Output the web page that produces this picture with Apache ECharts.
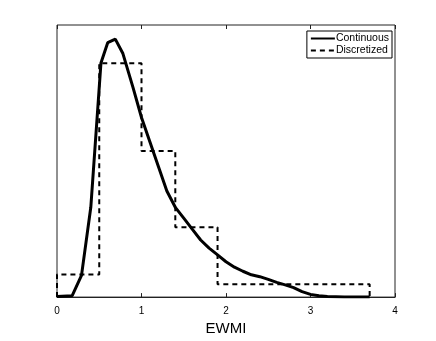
<!DOCTYPE html>
<html>
<head>
<meta charset="utf-8">
<script src="https://cdn.jsdelivr.net/npm/echarts@6/dist/echarts.min.js"></script>
<style>
  html, body { margin: 0; padding: 0; background: #fff; }
  #chart { width: 436px; height: 341px; }
</style>
</head>
<body>
<div id="chart"></div>
<script>
// continuous density (x, y)
var cont_x = [0, 0.18, 0.29, 0.4, 0.52, 0.6, 0.69, 0.78, 0.9, 1.0, 1.1, 1.2, 1.3, 1.4, 1.5, 1.6, 1.7, 1.8, 1.9, 2.0,
              2.1, 2.2, 2.3, 2.4, 2.5, 2.6, 2.7, 2.8, 2.9, 3.0, 3.1, 3.2, 3.4, 3.7];
var cont_y = [0.002, 0.005, 0.08, 0.33, 0.86, 0.935, 0.948, 0.895, 0.77, 0.66, 0.57, 0.48, 0.39, 0.33, 0.29, 0.25, 0.21, 0.18, 0.155, 0.13,
              0.11, 0.095, 0.082, 0.075, 0.065, 0.054, 0.045, 0.035, 0.02, 0.01, 0.005, 0.002, 0.0, 0.0];

// discretized bins
var bin_edges = [0, 0.5, 1.0, 1.4, 1.9, 3.7];
var bin_heights = [0.083, 0.859, 0.537, 0.257, 0.047];

var x_ticks = [0, 1, 2, 3, 4];

var cont_data = [];
for (var i = 0; i < cont_x.length; i++) {
    cont_data.push([cont_x[i], cont_y[i]]);
}

var disc_data = [[bin_edges[0], 0]];
for (var j = 0; j < bin_heights.length; j++) {
    disc_data.push([bin_edges[j], bin_heights[j]]);
    disc_data.push([bin_edges[j + 1], bin_heights[j]]);
}
disc_data.push([bin_edges[bin_edges.length - 1], 0]);

var myChart = echarts.init(document.getElementById('chart'));

var font = 'Liberation Sans, Arial, sans-serif';

var option = {
    animation: false,
    backgroundColor: '#fff',
    grid: {
        left: 57, top: 25, right: 41, bottom: 39,
        show: true,
        borderColor: '#222',
        borderWidth: 1
    },
    legend: {
        orient: 'vertical',
        right: 44,
        top: 31,
        padding: [2, 3, 2, 3],
        itemGap: 1,
        itemWidth: 24,
        itemHeight: 10,
        borderColor: '#000',
        borderWidth: 1,
        backgroundColor: '#fff',
        itemStyle: { color: 'rgba(0,0,0,0)', borderColor: 'rgba(0,0,0,0)', borderWidth: 0 },
        textStyle: { fontFamily: font, fontSize: 10.5, color: '#000', padding: [0, 0, 0, -4] },
        data: ['Continuous', 'Discretized']
    },
    xAxis: [{
        type: 'value',
        min: 0, max: 4, interval: 1,
        name: 'EWMI',
        nameLocation: 'middle',
        nameGap: 21,
        nameTextStyle: { fontFamily: font, fontSize: 15, color: '#000' },
        axisLine: { lineStyle: { color: '#222', width: 1 } },
        axisTick: { inside: true, length: 4, lineStyle: { color: '#222' } },
        axisLabel: { fontFamily: font, fontSize: 10, color: '#000', margin: 9 },
        splitLine: { show: false }
    }, {
        type: 'value',
        position: 'top',
        min: 0, max: 4, interval: 1,
        axisLine: { show: false },
        axisTick: { inside: true, length: 4, lineStyle: { color: '#222' } },
        axisLabel: { show: false },
        splitLine: { show: false }
    }],
    yAxis: {
        type: 'value',
        min: 0, max: 1,
        axisLine: { show: false },
        axisTick: { show: false },
        axisLabel: { show: false },
        splitLine: { show: false }
    },
    series: [{
        name: 'Continuous',
        type: 'line',
        data: cont_data,
        symbol: 'none',
        color: '#000',
        lineStyle: { color: '#000', width: 3 },
        z: 3
    }, {
        name: 'Discretized',
        type: 'line',
        data: disc_data,
        symbol: 'none',
        color: '#000',
        lineStyle: { color: '#000', width: 2, type: [5, 4] },
        z: 2
    }]
};

myChart.setOption(option);
</script>
</body>
</html>
